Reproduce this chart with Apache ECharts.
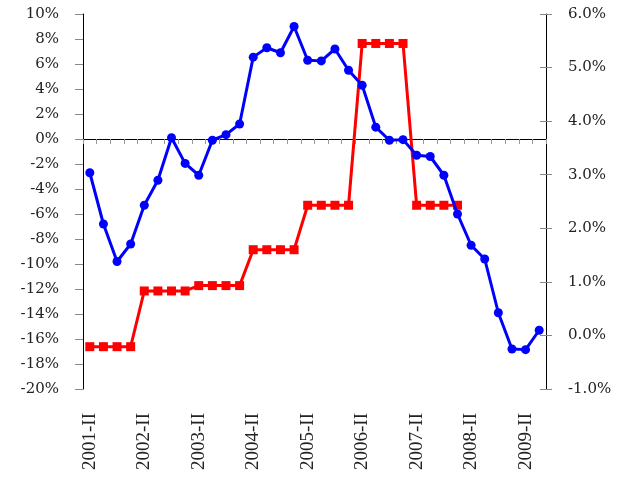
<!DOCTYPE html>
<html>
<head>
<meta charset="utf-8">
<script src="https://cdn.jsdelivr.net/npm/echarts@6/dist/echarts.min.js"></script>
<style>
    html, body { margin: 0; padding: 0; background: #fff; }
    #chart { width: 629px; height: 489px; }
</style>
</head>
<body>
<div id="chart"></div>
<script>
// quarters 2001-II .. 2009-III
var quarters = [
    '2001-II', '2001-III', '2001-IV',
    '2002-I', '2002-II', '2002-III', '2002-IV',
    '2003-I', '2003-II', '2003-III', '2003-IV',
    '2004-I', '2004-II', '2004-III', '2004-IV',
    '2005-I', '2005-II', '2005-III', '2005-IV',
    '2006-I', '2006-II', '2006-III', '2006-IV',
    '2007-I', '2007-II', '2007-III', '2007-IV',
    '2008-I', '2008-II', '2008-III', '2008-IV',
    '2009-I', '2009-II', '2009-III'
];

// blue line, left axis (%)
var blueValues = [
    -2.7, -6.8, -9.8, -8.4, -5.3, -3.3, 0.1, -1.95, -2.9, -0.1, 0.35, 1.2,
    6.55, 7.3, 6.9, 9.0, 6.3, 6.25, 7.2, 5.5, 4.3, 0.95, -0.1, -0.05,
    -1.3, -1.4, -2.9, -6.0, -8.5, -9.6, -13.9, -16.8, -16.85, -15.3
];

// red steps, right axis (%)
var redValues = [
    -0.21, -0.21, -0.21, -0.21, 0.83, 0.83, 0.83, 0.83, 0.93, 0.93, 0.93, 0.93,
    1.6, 1.6, 1.6, 1.6, 2.43, 2.43, 2.43, 2.43, 5.45, 5.45, 5.45, 5.45,
    2.43, 2.43, 2.43, 2.43, null, null, null, null, null, null
];

var leftMin = -20, leftMax = 10, leftStep = 2;
var rightMin = -1, rightMax = 6, rightStep = 1;

var serif = 'DejaVu Serif';

document.addEventListener('DOMContentLoaded', function () {
    var myChart = echarts.init(document.getElementById('chart'));
    var option = {
        animation: false,
        grid: { left: 83, right: 83, top: 14, bottom: 100 },
        xAxis: [
            {
                // the line through zero, with its ticks pointing down
                type: 'category',
                data: quarters,
                position: 'top',
                boundaryGap: true,
                axisLine: { onZero: true, lineStyle: { color: '#000', width: 1 } },
                axisTick: { show: true, interval: 0, inside: true, length: 5, lineStyle: { color: '#999' } },
                axisLabel: { show: false },
                splitLine: { show: false }
            },
            {
                // labels at the bottom only
                type: 'category',
                data: quarters,
                position: 'bottom',
                boundaryGap: true,
                axisLine: { show: false, onZero: false },
                axisTick: { show: false },
                axisLabel: {
                    interval: 3,
                    rotate: 90,
                    margin: 24,
                    color: '#222',
                    fontFamily: 'Liberation Serif',
                    fontSize: 19
                },
                splitLine: { show: false }
            }
        ],
        yAxis: [
            {
                type: 'value',
                position: 'left',
                min: leftMin,
                max: leftMax,
                interval: leftStep,
                axisLine: { show: true, onZero: false, lineStyle: { color: '#000', width: 1 } },
                axisTick: { show: true, length: 8, lineStyle: { color: '#888' } },
                splitLine: { show: false },
                axisLabel: {
                    formatter: function (v) { return v + '%'; },
                    margin: 24,
                    color: '#222',
                    fontFamily: serif,
                    fontSize: 15
                }
            },
            {
                type: 'value',
                position: 'right',
                min: rightMin,
                max: rightMax,
                interval: rightStep,
                axisLine: { show: true, onZero: false, lineStyle: { color: '#000', width: 1 } },
                axisTick: { show: true, length: 6, lineStyle: { color: '#888' } },
                splitLine: { show: false },
                axisLabel: {
                    formatter: function (v) { return v.toFixed(1) + '%'; },
                    margin: 22,
                    color: '#222',
                    fontFamily: serif,
                    fontSize: 15
                }
            },
            {
                // inner half of the crossing ticks on the right axis
                type: 'value',
                position: 'right',
                min: rightMin,
                max: rightMax,
                interval: rightStep,
                axisLine: { show: false, onZero: false },
                axisTick: { show: true, inside: true, length: 6, lineStyle: { color: '#888' } },
                axisLabel: { show: false },
                splitLine: { show: false }
            }
        ],
        series: [
            {
                type: 'line',
                yAxisIndex: 1,
                data: redValues,
                symbol: 'rect',
                symbolSize: 9,
                color: '#ff0000',
                lineStyle: { width: 3, color: '#ff0000' },
                itemStyle: { color: '#ff0000' },
                z: 2
            },
            {
                type: 'line',
                yAxisIndex: 0,
                data: blueValues,
                symbol: 'circle',
                symbolSize: 9,
                color: '#0000ff',
                lineStyle: { width: 3, color: '#0000ff' },
                itemStyle: { color: '#0000ff' },
                z: 3
            }
        ]
    };
    myChart.setOption(option);
});
</script>
</body>
</html>
